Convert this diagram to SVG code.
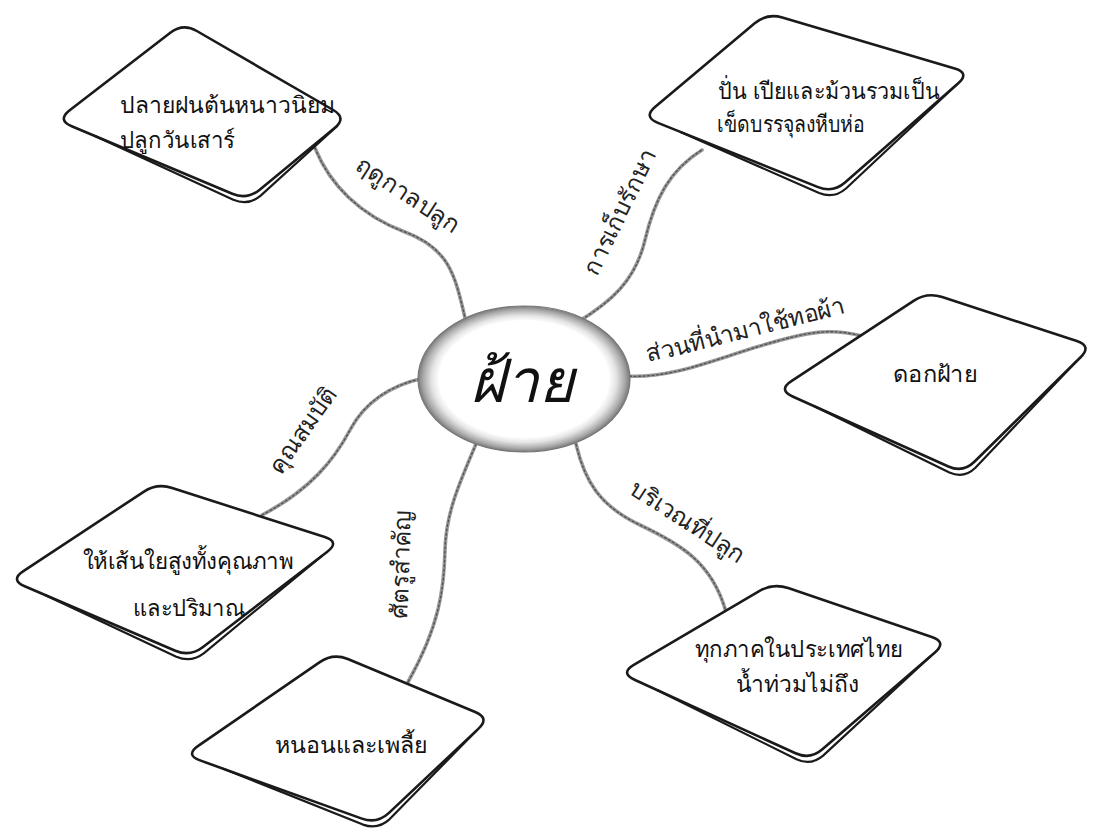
<svg xmlns="http://www.w3.org/2000/svg" width="1097" height="838" viewBox="0 0 1097 838">
<style>
.bg{fill:#ffffff}
.box{fill:#ffffff;stroke:#1a1a1a;stroke-width:2.6;stroke-linejoin:round}
.shadow{fill:none;stroke:#1a1a1a;stroke-width:2.2;stroke-linecap:round;stroke-linejoin:round}
.rope{fill:none;stroke:#9a9a9a;stroke-width:3.6;stroke-linecap:round}
.ropet{fill:none;stroke:#555;stroke-width:1.4;stroke-dasharray:2 2.5;stroke-linecap:round}
.t{font-family:"Noto Sans","Liberation Sans",sans-serif;font-size:23px;fill:#111}
.lbl{font-family:"Noto Sans","Liberation Sans",sans-serif;font-size:24px;fill:#222;text-anchor:middle}
.main{font-family:"Liberation Serif","Noto Sans",serif;font-size:60px;font-style:italic;fill:#111;text-anchor:middle}
</style>
<defs>
<radialGradient id="ring" cx="0.5" cy="0.5" r="0.5">
<stop offset="0" stop-color="#ffffff"/>
<stop offset="0.8" stop-color="#ffffff"/>
<stop offset="0.87" stop-color="#e4e4e4"/>
<stop offset="0.95" stop-color="#aaaaaa"/>
<stop offset="1" stop-color="#7a7a7a"/>
</radialGradient>
</defs>
<rect class="bg" x="0" y="0" width="1097" height="838"/>

<g id="connectors">
<path class="rope" d="M315,148 C330,185 360,215 405,232 S455,275 466,322"/>
<path class="ropet" d="M315,148 C330,185 360,215 405,232 S455,275 466,322"/>
<path class="rope" d="M578,322 C610,302 635,282 645,240 S670,170 702,150"/>
<path class="ropet" d="M578,322 C610,302 635,282 645,240 S670,170 702,150"/>
<path class="rope" d="M625,376 C670,379 710,361 760,346 S830,328 862,336"/>
<path class="ropet" d="M625,376 C670,379 710,361 760,346 S830,328 862,336"/>
<path class="rope" d="M424,378 C392,385 366,400 350,430 S310,490 262,515"/>
<path class="ropet" d="M424,378 C392,385 366,400 350,430 S310,490 262,515"/>
<path class="rope" d="M476,444 C460,482 446,512 445,550 S440,625 408,682"/>
<path class="ropet" d="M476,444 C460,482 446,512 445,550 S440,625 408,682"/>
<path class="rope" d="M576,444 C585,482 600,506 640,525 S712,562 726,612"/>
<path class="ropet" d="M576,444 C585,482 600,506 640,525 S712,562 726,612"/>
</g>

<g id="center">
<ellipse cx="524" cy="379" rx="106" ry="73" fill="url(#ring)" stroke="#777" stroke-width="1.2"/>
<text class="main" x="522" y="402">ฝ้าย</text>
</g>

<g id="n1">
<path class="box" d="M196.8,31 L333.2,110 Q347,118 334.6,128.1 L259.4,189.9 Q247,200 232.3,193.8 L71.7,126.2 Q57,120 69.7,110.2 L170.3,32.8 Q183,23 196.8,31 Z"/>
<path class="shadow" d="M95,136 L233.3,199.8 Q248,206 260.4,195.9 L337,126.2"/>
<text class="t" x="120" y="113" textLength="215" lengthAdjust="spacingAndGlyphs">ปลายฝนต้นหนาวนิยม</text>
<text class="t" x="120" y="148" textLength="115" lengthAdjust="spacingAndGlyphs">ปลูกวันเสาร์</text>
</g>

<g id="n2">
<path class="box" d="M782.3,17.5 L954.7,68.5 Q970,73 958,83.5 L845,182.5 Q833,193 818.1,187.1 L657.9,122.9 Q643,117 655.3,106.7 L754.7,23.3 Q767,13 782.3,17.5 Z"/>
<path class="shadow" d="M681,132.2 L819.1,193.1 Q834,199 846,188.5 L956.3,85"/>
<text class="t" x="718" y="99" textLength="222" lengthAdjust="spacingAndGlyphs">ปั่น เปียและม้วนรวมเป็น</text>
<text class="t" x="717" y="132" textLength="148" lengthAdjust="spacingAndGlyphs">เข็ดบรรจุลงหีบห่อ</text>
</g>

<g id="n3">
<path class="box" d="M942.2,297 L1076.8,341 Q1092,346 1080.6,357.2 L974.4,461.8 Q963,473 948.4,466.5 L792.6,396.5 Q778,390 791.4,381.2 L913.6,300.8 Q927,292 942.2,297 Z"/>
<path class="shadow" d="M815,406.6 L949.4,472.5 Q964,479 975.4,467.8 L1076.5,361.2"/>
<text class="t" x="935" y="382" text-anchor="middle" textLength="84" lengthAdjust="spacingAndGlyphs">ดอกฝ้าย</text>
</g>

<g id="n4">
<path class="box" d="M172.2,487.9 L324.8,537.1 Q340,542 327.3,551.7 L202.7,647.3 Q190,657 175.3,650.7 L24.7,586.3 Q10,580 23.4,571.2 L143.6,491.8 Q157,483 172.2,487.9 Z"/>
<path class="shadow" d="M46,595.4 L176.3,656.7 Q191,663 203.7,653.3 L322,555.8"/>
<text class="t" x="188" y="569" text-anchor="middle" textLength="211" lengthAdjust="spacingAndGlyphs">ให้เส้นใยสูงทั้งคุณภาพ</text>
<text class="t" x="189" y="616" text-anchor="middle" textLength="112" lengthAdjust="spacingAndGlyphs">และปริมาณ</text>
</g>

<g id="n5">
<path class="box" d="M347.8,659 L475.2,712 Q490,718 478.3,728.9 L388.7,813.1 Q377,824 361.9,818.6 L200.1,760.4 Q185,755 198.2,745.9 L319.8,662.1 Q333,653 347.8,659 Z"/>
<path class="shadow" d="M223.4,768.8 L362.9,824.6 Q378,830 389.7,819.1 L476.4,730.7"/>
<text class="t" x="351" y="753" text-anchor="middle" font-weight="500" textLength="153" lengthAdjust="spacingAndGlyphs">หนอนและเพลี้ย</text>
</g>

<g id="n6">
<path class="box" d="M788.2,588.1 L931.8,636.9 Q947,642 934.9,652.4 L822.1,749.6 Q810,760 795.5,753.3 L634.5,679.7 Q620,673 633.8,664.9 L759.2,591.1 Q773,583 788.2,588.1 Z"/>
<path class="shadow" d="M658,690.4 L796.5,759.3 Q811,766 823.1,755.6 L930.6,656.2"/>
<text class="t" x="799" y="657" text-anchor="middle" textLength="208" lengthAdjust="spacingAndGlyphs">ทุกภาคในประเทศไทย</text>
<text class="t" x="797" y="692" text-anchor="middle" textLength="123" lengthAdjust="spacingAndGlyphs">น้ำท่วมไม่ถึง</text>
</g>

<g id="labels">
<text class="lbl" transform="translate(408,195) rotate(33)" y="8">ฤดูกาลปลูก</text>
<text class="lbl" transform="translate(620,212) rotate(-64)" y="8">การเก็บรักษา</text>
<text class="lbl" transform="translate(745,330) rotate(-14)" y="8">ส่วนที่นำมาใช้ทอผ้า</text>
<text class="lbl" transform="translate(303,430) rotate(-55)" y="8">คุณสมบัติ</text>
<text class="lbl" transform="translate(401,565) rotate(-88)" y="8">ศัตรูสำคัญ</text>
<text class="lbl" transform="translate(688,522) rotate(33)" y="8">บริเวณที่ปลูก</text>
</g>
</svg>
